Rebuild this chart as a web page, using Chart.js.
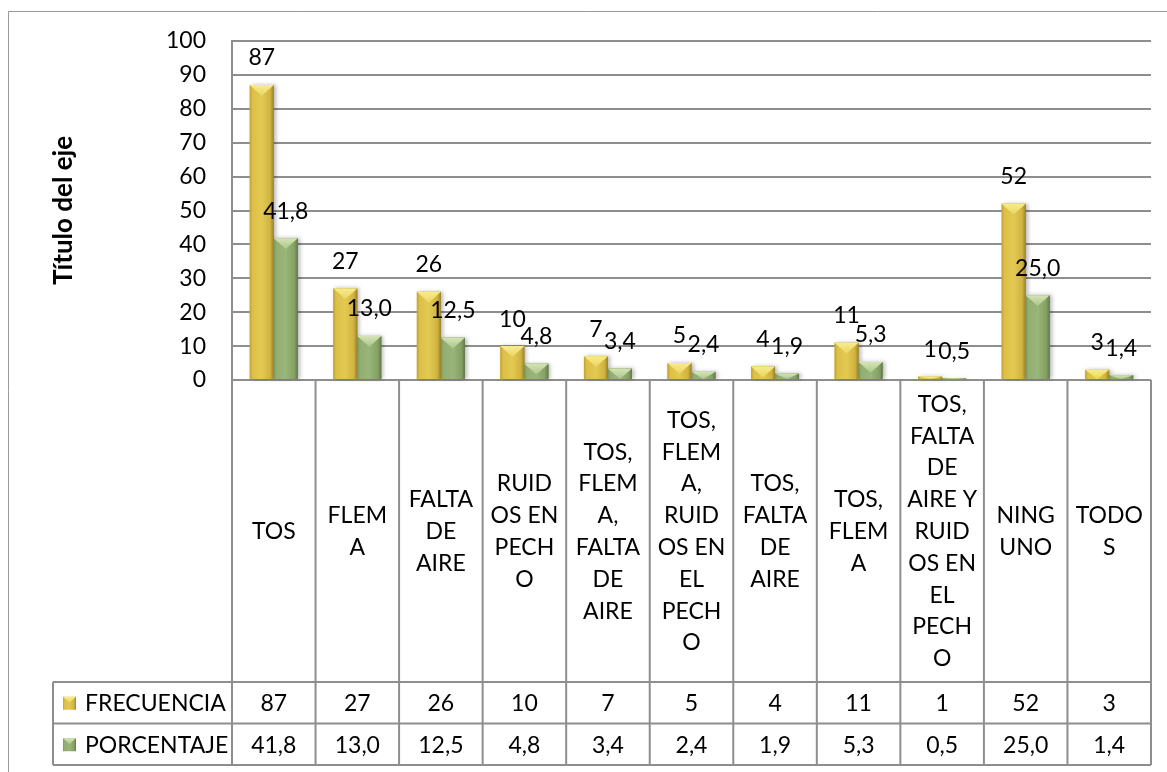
<!DOCTYPE html>
<html>
<head>
<meta charset="utf-8">
<script src="https://cdn.jsdelivr.net/npm/chart.js@4/dist/chart.umd.min.js"></script>
<style>
  html, body { margin: 0; padding: 0; background: #fff; overflow: hidden; }
  #wrap { position: relative; width: 1167px; height: 772px; }
</style>
</head>
<body>
<div id="wrap"><canvas id="chart"></canvas></div>
<script>
// categories, wrapped the way they sit in the table header
const categories = [
  ["TOS"],
  ["FLEM", "A"],
  ["FALTA", "DE", "AIRE"],
  ["RUID", "OS EN", "PECH", "O"],
  ["TOS,", "FLEM", "A,", "FALTA", "DE", "AIRE"],
  ["TOS,", "FLEM", "A,", "RUID", "OS EN", "EL", "PECH", "O"],
  ["TOS,", "FALTA", "DE", "AIRE"],
  ["TOS,", "FLEM", "A"],
  ["TOS,", "FALTA", "DE", "AIRE Y", "RUID", "OS EN", "EL", "PECH", "O"],
  ["NING", "UNO"],
  ["TODO", "S"]
];
const seriesNames = ["FRECUENCIA", "PORCENTAJE"];
const frecuencia = [87, 27, 26, 10, 7, 5, 4, 11, 1, 52, 3];
const porcentaje = [41.8, 13.0, 12.5, 4.8, 3.4, 2.4, 1.9, 5.3, 0.5, 25.0, 1.4];
const yTicks = [0, 10, 20, 30, 40, 50, 60, 70, 80, 90, 100];

const FONT = "Lato, 'Liberation Sans', sans-serif";
const LINE = "#8e8e8e";
const LABEL_LH = 31.8;

const palettes = [
  {
    body: [[0, "#c0a332"], [0.12, "#dcc048"], [0.5, "#e3c952"], [0.85, "#d0b340"], [1, "#9c8226"]],
    top: ["#f8ec8a", "#e9d562"]
  },
  {
    body: [[0, "#7d985f"], [0.12, "#93ae72"], [0.5, "#9ab578"], [0.85, "#86a165"], [1, "#617a46"]],
    top: ["#d4e4b4", "#acc68c"]
  }
];

const fmt = [v => String(v), v => v.toFixed(1).replace(".", ",")];

function bevel(ctx, x0, x1, yTop, yBot, pal, shadow) {
  const w = x1 - x0, h = yBot - yTop;
  if (h <= 0 || w <= 0) return;
  ctx.save();
  if (shadow) {
    ctx.shadowColor = "rgba(0,0,0,0.28)";
    ctx.shadowBlur = 4;
    ctx.shadowOffsetX = 2;
  }
  const g = ctx.createLinearGradient(x0, 0, x1, 0);
  pal.body.forEach(([s, c]) => g.addColorStop(s, c));
  ctx.fillStyle = g;
  ctx.fillRect(x0, yTop, w, h);
  ctx.restore();
  // pyramid-like top facet
  ctx.save();
  const d = Math.min(w * 0.45, h);
  const tg = ctx.createLinearGradient(0, yTop, 0, yTop + d);
  tg.addColorStop(0, pal.top[0]);
  tg.addColorStop(1, pal.top[1]);
  ctx.fillStyle = tg;
  ctx.beginPath();
  ctx.moveTo(x0, yTop);
  ctx.lineTo(x1, yTop);
  ctx.lineTo((x0 + x1) / 2, yTop + d);
  ctx.closePath();
  ctx.fill();
  ctx.restore();
}

const frame = {
  id: "frame",
  beforeDraw(chart) {
    const ctx = chart.ctx;
    ctx.save();
    ctx.fillStyle = "#fff";
    ctx.fillRect(0, 0, chart.width, chart.height);
    ctx.strokeStyle = "#9a9a9a";
    ctx.lineWidth = 1;
    ctx.beginPath();
    ctx.moveTo(8.5, chart.height);
    ctx.lineTo(8.5, 11.5);
    ctx.lineTo(chart.width, 11.5);
    ctx.stroke();
    ctx.restore();
  }
};

// bevelled bars + value labels above them
const bars = {
  id: "bars",
  afterDatasetsDraw(chart) {
    const ctx = chart.ctx;
    chart.data.datasets.forEach((ds, di) => {
      chart.getDatasetMeta(di).data.forEach(el => {
        const half = el.width / 2;
        bevel(ctx, el.x - half, el.x + half, el.y, el.base, palettes[di], true);
      });
    });
    ctx.save();
    ctx.fillStyle = "#000";
    ctx.font = "23px " + FONT;
    ctx.textAlign = "center";
    ctx.textBaseline = "middle";
    chart.data.datasets.forEach((ds, di) => {
      chart.getDatasetMeta(di).data.forEach((el, i) => {
        ctx.fillText(fmt[di](ds.data[i]), el.x, el.y - 27);
      });
    });
    ctx.restore();
  }
};

// category header, data table and legend keys under the plot
const table = {
  id: "table",
  afterDraw(chart) {
    const ctx = chart.ctx;
    const xs = chart.scales.x;
    const n = categories.length;
    const cw = (xs.right - xs.left) / n;
    const rowH = 41.5;
    const top = xs.top, r0 = xs.bottom, r1 = r0 + rowH, r2 = r1 + rowH;
    const legendLeft = 53;
    ctx.save();
    ctx.strokeStyle = LINE;
    ctx.lineWidth = 2;
    ctx.beginPath();
    for (let i = 0; i <= n; i++) {
      const x = xs.left + i * cw;
      ctx.moveTo(x, top);
      ctx.lineTo(x, r2);
    }
    ctx.moveTo(legendLeft, r0);
    ctx.lineTo(legendLeft, r2);
    [r0, r1, r2].forEach(y => {
      ctx.moveTo(legendLeft, y);
      ctx.lineTo(xs.right, y);
    });
    ctx.stroke();

    ctx.font = "23px " + FONT;
    ctx.fillStyle = "#000";

    // wrapped category names, centred in their column
    ctx.textAlign = "center";
    ctx.textBaseline = "alphabetic";
    const mid = (top + r0) / 2;
    categories.forEach((lines, i) => {
      const x = xs.getPixelForValue(i);
      const y0 = mid - (lines.length - 1) / 2 * LABEL_LH + 8;
      lines.forEach((t, j) => ctx.fillText(t, x, y0 + j * LABEL_LH));
    });

    ctx.textBaseline = "middle";
    const rows = [frecuencia, porcentaje];
    rows.forEach((vals, ri) => {
      const cy = (ri === 0 ? r0 : r1) + rowH / 2;
      bevel(ctx, legendLeft + 10, legendLeft + 23, cy - 6, cy + 7, palettes[ri], false);
      ctx.fillStyle = "#000";
      ctx.textAlign = "center";
      vals.forEach((v, i) => {
        ctx.fillText(fmt[ri](v), xs.getPixelForValue(i), cy + 1);
      });
      ctx.textAlign = "left";
      ctx.fillText(seriesNames[ri], legendLeft + 32, cy + 1);
    });

    // axis title
    const ca = chart.chartArea;
    ctx.translate(72, (ca.top + ca.bottom) / 2);
    ctx.rotate(-Math.PI / 2);
    ctx.fillStyle = "#000";
    ctx.font = "bold 26px " + FONT;
    ctx.textAlign = "center";
    ctx.textBaseline = "alphabetic";
    ctx.fillText("Título del eje", 0, 0);
    ctx.restore();
  }
};

new Chart(document.getElementById("chart"), {
  type: "bar",
  data: {
    labels: categories,
    datasets: [
      { label: seriesNames[0], data: frecuencia, backgroundColor: "#dcc048" },
      { label: seriesNames[1], data: porcentaje, backgroundColor: "#93ae72" }
    ]
  },
  options: {
    responsive: true,
    maintainAspectRatio: false,
    animation: false,
    events: [],
    datasets: { bar: { categoryPercentage: 0.575, barPercentage: 1 } },
    layout: { padding: { left: 0, right: 16, top: 41, bottom: 90 } },
    plugins: { legend: { display: false }, tooltip: { enabled: false } },
    scales: {
      x: {
        grid: { display: false },
        border: { display: false },
        ticks: { display: false },
        afterFit(scale) { scale.height = 302; }
      },
      y: {
        min: 0,
        max: 100,
        afterBuildTicks(scale) { scale.ticks = yTicks.map(v => ({ value: v })); },
        grid: { color: LINE, lineWidth: 2, drawTicks: false },
        border: { display: true, color: LINE, width: 2 },
        ticks: {
          color: "#000",
          font: { family: FONT, size: 23 },
          padding: 26
        },
        afterFit(scale) { scale.width = 232; }
      }
    }
  },
  plugins: [frame, bars, table]
});
</script>
</body>
</html>
